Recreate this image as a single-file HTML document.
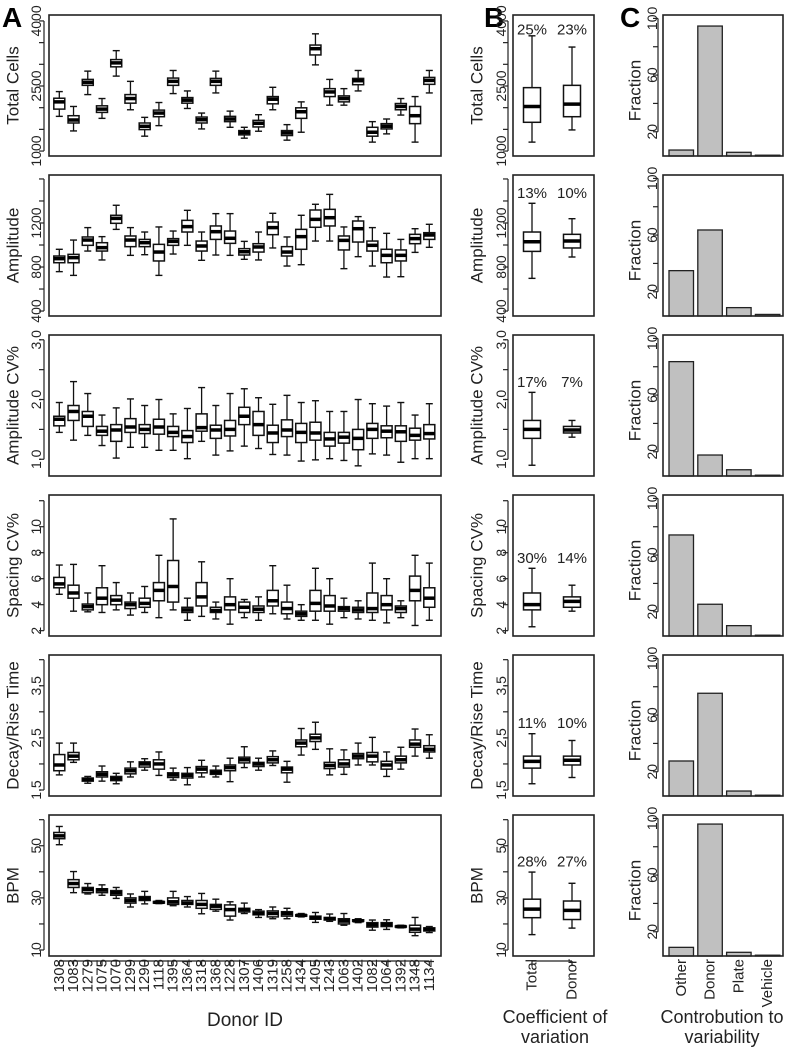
<!DOCTYPE html>
<html><head><meta charset="utf-8">
<style>
html,body{margin:0;padding:0;background:#fff;}
svg{display:block;font-family:"Liberation Sans",Arial,sans-serif;}
</style></head>
<body>
<svg id="fig" width="788" height="1050" viewBox="0 0 788 1050" xmlns="http://www.w3.org/2000/svg"></svg>
<script>
// ---------- DATA ----------
const donors=["1308","1083","1279","1075","1070","1299","1290","1118","1395","1364","1318","1368","1228","1307","1406","1319","1258","1434","1405","1243","1063","1402","1082","1064","1392","1348","1134"];
// each entry: [whiskerHigh, q3, median, q1, whiskerLow]
const cellsBox=[[2371,2218,2134,1967,1800],[2028,1815,1716,1647,1464],[2843,2652,2584,2515,2302],[2211,2043,1967,1891,1754],[3315,3109,3033,2942,2728],[2607,2302,2211,2104,1952],[1777,1647,1571,1495,1343],[2119,1944,1876,1792,1586],[2858,2683,2607,2515,2325],[2386,2233,2173,2104,1982],[1876,1784,1723,1647,1510],[2843,2675,2607,2515,2340],[1921,1800,1739,1678,1548],[1548,1472,1426,1373,1297],[1838,1708,1640,1556,1457],[2470,2256,2195,2089,1952],[1609,1472,1419,1358,1251],[2134,1997,1906,1754,1434],[3703,3444,3360,3216,2987],[2652,2439,2363,2256,2058],[2439,2272,2211,2134,2058],[2858,2675,2622,2530,2386],[1678,1548,1434,1343,1206],[1739,1632,1571,1510,1396],[2211,2096,2028,1952,1830],[2256,2028,1815,1632,1206],[2858,2698,2629,2538,2340]];
const ampBox=[[961,900,876,839,758],[1045,915,885,839,724],[1158,1073,1045,997,945],[1076,1021,976,945,864],[1361,1270,1242,1197,1142],[1158,1082,1045,985,906],[1118,1051,1021,985,912],[1164,1006,936,855,724],[1127,1058,1033,997,918],[1315,1224,1167,1118,997],[1118,1036,991,945,861],[1285,1173,1121,1051,909],[1285,1127,1061,1015,906],[1033,967,939,909,870],[1118,1012,982,936,864],[1288,1209,1158,1094,973],[1073,985,936,900,809],[1270,1142,1076,961,821],[1370,1318,1233,1161,1036],[1460,1324,1248,1173,1036],[1164,1082,1042,955,785],[1258,1218,1148,1027,894],[1158,1036,997,945,809],[1106,961,906,839,709],[1051,955,906,855,712],[1148,1097,1058,1012,933],[1188,1112,1091,1051,979]];
const ampCvBox=[[1.95,1.72,1.67,1.56,1.45],[2.30,1.90,1.80,1.65,1.32],[2.10,1.80,1.72,1.55,1.40],[1.74,1.55,1.47,1.40,1.23],[1.86,1.58,1.49,1.30,1.02],[2.01,1.68,1.54,1.45,1.20],[1.90,1.58,1.50,1.43,1.20],[2.00,1.67,1.54,1.42,1.15],[1.76,1.55,1.45,1.38,1.15],[1.85,1.48,1.38,1.28,1.01],[2.20,1.76,1.53,1.47,1.30],[1.90,1.57,1.49,1.35,1.07],[2.10,1.65,1.50,1.39,1.14],[2.18,1.87,1.72,1.58,1.22],[2.03,1.80,1.58,1.40,1.18],[1.92,1.57,1.44,1.28,1.08],[2.07,1.66,1.49,1.38,1.07],[1.95,1.60,1.45,1.28,0.97],[1.98,1.62,1.44,1.32,0.99],[1.80,1.45,1.34,1.22,1.01],[1.80,1.45,1.37,1.27,0.98],[2.00,1.50,1.35,1.16,0.89],[1.93,1.60,1.50,1.35,1.09],[1.89,1.56,1.47,1.36,1.07],[1.95,1.56,1.46,1.30,0.95],[1.74,1.52,1.40,1.32,1.01],[1.93,1.58,1.43,1.34,1.01]];
const spacingCvBox=[[7.05,6.1,5.6,5.3,4.8],[7.1,5.5,4.9,4.5,3.5],[4.9,4.05,3.85,3.6,3.45],[7.0,5.3,4.5,4.0,3.4],[5.7,4.7,4.35,4.0,3.6],[4.9,4.2,4.0,3.7,3.2],[5.4,4.5,4.1,3.8,3.4],[7.8,5.7,5.1,4.3,3.0],[10.6,7.4,5.4,4.2,3.6],[4.5,3.8,3.6,3.4,2.8],[7.3,5.7,4.6,3.9,3.1],[4.2,3.8,3.55,3.4,2.9],[6.0,4.6,4.0,3.6,2.5],[4.4,4.2,3.8,3.4,3.0],[4.6,3.9,3.65,3.4,2.8],[7.0,5.1,4.3,3.9,3.3],[5.5,4.2,3.7,3.3,2.9],[4.0,3.5,3.3,3.1,2.8],[6.8,5.1,4.1,3.5,2.8],[6.0,4.7,3.9,3.5,2.5],[4.5,3.85,3.7,3.5,3.0],[4.3,3.8,3.6,3.4,2.9],[7.2,4.9,3.7,3.4,2.8],[6.0,4.7,4.0,3.6,2.6],[4.3,3.9,3.7,3.4,3.0],[7.8,6.2,5.1,4.3,2.4],[7.2,5.3,4.5,3.8,2.8]];
const decayRiseBox=[[2.40,2.18,1.98,1.87,1.79],[2.40,2.22,2.15,2.08,2.03],[1.76,1.73,1.70,1.67,1.63],[1.96,1.85,1.80,1.75,1.67],[1.82,1.76,1.72,1.68,1.62],[2.04,1.92,1.87,1.81,1.75],[2.10,2.04,2.00,1.94,1.88],[2.23,2.08,2.00,1.90,1.78],[1.92,1.83,1.79,1.74,1.69],[1.93,1.82,1.78,1.73,1.60],[2.07,1.95,1.90,1.83,1.75],[1.96,1.88,1.84,1.80,1.75],[2.11,1.98,1.93,1.87,1.66],[2.33,2.13,2.08,2.02,1.93],[2.11,2.03,2.00,1.95,1.88],[2.25,2.14,2.08,2.02,1.97],[2.05,1.94,1.90,1.83,1.65],[2.68,2.46,2.40,2.33,2.17],[2.80,2.57,2.50,2.43,2.28],[2.29,2.03,1.97,1.91,1.79],[2.27,2.08,2.00,1.94,1.80],[2.40,2.20,2.15,2.10,1.98],[2.51,2.22,2.15,2.04,1.98],[2.23,2.05,1.98,1.90,1.76],[2.32,2.15,2.08,2.02,1.90],[2.67,2.46,2.38,2.32,2.15],[2.56,2.35,2.28,2.23,2.11]];
const bpmBox=[[57.4,55.1,53.8,52.7,50.4],[40.1,37.0,35.5,34.0,32.0],[35.5,34.0,33.2,32.0,31.5],[35.0,33.5,33.0,32.0,31.0],[34.0,32.8,32.0,31.0,29.8],[31.5,30.0,29.0,28.0,26.5],[32.5,30.5,29.8,29.0,27.7],[29.0,28.6,28.3,28.0,27.8],[32.5,30.0,28.5,27.5,27.0],[30.5,29.0,28.0,27.5,26.5],[31.7,29.0,27.5,26.0,23.9],[29.5,27.5,26.8,25.6,24.9],[28.5,27.3,25.5,23.0,21.5],[28.0,26.0,25.5,24.6,24.0],[25.5,24.9,24.0,23.5,22.5],[26.5,25.0,24.0,22.7,22.0],[26.0,24.7,24.0,23.0,22.0],[24.0,23.5,23.3,23.0,22.7],[24.4,23.0,22.4,21.8,20.6],[23.8,22.5,22.0,21.5,21.0],[24.0,22.0,21.1,20.0,19.5],[22.0,21.6,21.2,21.0,20.5],[21.5,20.5,19.7,18.8,17.6],[21.6,20.5,19.8,19.0,17.9],[19.5,19.2,19.0,18.8,18.5],[22.5,19.5,18.0,16.8,15.5],[19.0,18.5,18.0,17.3,16.7]];

const cvGroups=["Total","Donor"];
const cvCellsBox=[[3657,2462,2028,1663,1206],[3398,2515,2081,1792,1487]];
const cvAmpBox=[[1379,1118,1030,942,697],[1239,1097,1036,973,891]];
const cvAmpCvBox=[[2.12,1.65,1.50,1.35,0.90],[1.65,1.55,1.49,1.44,1.37]];
const cvSpacingBox=[[6.8,4.9,4.0,3.6,2.3],[5.5,4.6,4.25,3.8,3.5]];
const cvDecayBox=[[2.58,2.15,2.05,1.92,1.62],[2.45,2.15,2.07,1.98,1.74]];
const cvBpmBox=[[39.9,29.5,25.7,22.4,15.9],[35.6,28.8,25.2,21.7,18.4]];
const cvPercentTotal=["25%","13%","17%","30%","11%","28%"];
const cvPercentDonor=["23%","10%","7%","14%","10%","27%"];

const contribCats=["Other","Donor","Plate","Vehicle"];
const contribCells=[7.1,94.6,5.5,2.5];
const contribAmp=[34.9,63.6,8.8,4.0];
const contribAmpCv=[83.6,17.7,7.3,2.5];
const contribSpacing=[74.2,25.3,10.2,2.5];
const contribDecay=[27.6,75.4,6.4,2.5];
const contribBpm=[9.0,96.0,5.5,2.5];

const metricTitles=["Total Cells","Amplitude","Amplitude CV%","Spacing CV%","Decay/Rise Time","BPM"];
const yTicks=[[1000,1500,2000,2500,3000,3500,4000],[400,600,800,1000,1200,1400,1600],[1.0,1.5,2.0,2.5,3.0],[2,4,6,8,10,12],[1.5,2.0,2.5,3.0,3.5,4.0],[10,20,30,40,50,60]];
const yTickLabels=[["1000","2500","4000"],["400","800","1200"],["1.0","2.0","3.0"],["2","4","6","8","10"],["1.5","2.5","3.5"],["10","30","50"]];
const contribTicks=[20,40,60,80,100];
const contribTickLabels=["20","60","100"];

// ---------- LAYOUT ----------
const NS="http://www.w3.org/2000/svg";
const svg=document.getElementById('fig');
function mk(tag,attrs,parent){const e=document.createElementNS(NS,tag);for(const k in attrs)e.setAttribute(k,attrs[k]);(parent||svg).appendChild(e);return e;}
const panelTop=i=>15+160*i;
const PH=141;
const domains=[[886,4137],[355,1636],[0.72,3.08],[1.59,12.44],[1.385,4.09],[7.7,61.8]];
function yScale(i){const [a,b]=domains[i];const t=panelTop(i);return v=>t+PH-(v-a)/(b-a)*PH;}
const Ax0=49,Ax1=441;
const xA=k=>59.3+k*(429.3-59.3)/(donors.length-1);
const Bx0=513,Bx1=594;
const xB=k=>532+k*40;
const Cx0=663,Cx1=783;
const xC=k=>669+k*28.8;
const yC=(i,v)=>panelTop(i)+3.4+(100-v)*1.417;

const boxData=[cellsBox,ampBox,ampCvBox,spacingCvBox,decayRiseBox,bpmBox];
const cvData=[cvCellsBox,cvAmpBox,cvAmpCvBox,cvSpacingBox,cvDecayBox,cvBpmBox];
const contribData=[contribCells,contribAmp,contribAmpCv,contribSpacing,contribDecay,contribBpm];

function rtext(x,y,str,size,anchor,parent){
  const t=mk('text',{transform:`translate(${x},${y}) rotate(-90)`,'text-anchor':anchor||'middle','dominant-baseline':'central','font-size':size,fill:'#222'},parent);
  t.textContent=str;return t;
}
function drawBox(g,x,w,cap,ys,s){
  const [hi,q3,md,q1,lo]=s.map(ys);
  mk('line',{x1:x,x2:x,y1:hi,y2:q3,stroke:'#111','stroke-width':1.3},g);
  mk('line',{x1:x,x2:x,y1:q1,y2:lo,stroke:'#111','stroke-width':1.3},g);
  mk('line',{x1:x-cap,x2:x+cap,y1:hi,y2:hi,stroke:'#111','stroke-width':1.4},g);
  mk('line',{x1:x-cap,x2:x+cap,y1:lo,y2:lo,stroke:'#111','stroke-width':1.4},g);
  mk('rect',{x:x-w/2,y:q3,width:w,height:Math.max(q1-q3,0.5),fill:'#fff',stroke:'#111','stroke-width':1.5},g);
  mk('line',{x1:x-w/2,x2:x+w/2,y1:md,y2:md,stroke:'#000','stroke-width':3.5},g);
}
function yAxis(g,i,xAxis,labelX,ys){
  const tk=yTicks[i];
  mk('line',{x1:xAxis,x2:xAxis,y1:ys(tk[0]),y2:ys(tk[tk.length-1]),stroke:'#222','stroke-width':1.2},g);
  tk.forEach(v=>{mk('line',{x1:xAxis-5,x2:xAxis,y1:ys(v),y2:ys(v),stroke:'#222','stroke-width':1.2},g);});
  yTickLabels[i].forEach(l=>{rtext(labelX,ys(parseFloat(l)),l,14,'middle',g);});
}

// panel letters
[["A",2],["B",484],["C",620]].forEach(([L,x])=>{
  const t=mk('text',{x:x,y:27,'font-size':28,'font-weight':'bold',fill:'#000'});
  
  
  t.textContent=L;
});

for(let i=0;i<6;i++){
  const top=panelTop(i);
  const ys=yScale(i);
  const slug=metricTitles[i].toLowerCase().replace(/[^a-z]+/g,'-').replace(/-$/,'');
  // ---- Panel A ----
  const gA=mk('g',{});
  
  
  mk('rect',{x:Ax0,y:top,width:Ax1-Ax0,height:PH,fill:'none',stroke:'#222','stroke-width':1.6},gA);
  yAxis(gA,i,Ax0-5,36,ys);
  const tA=rtext(13,top+PH/2,metricTitles[i],17,'middle',gA);
  
  
  boxData[i].forEach((s,k)=>{
    const g=mk('g',{},gA);
    
    
    drawBox(g,xA(k),11,3.5,ys,s);
  });
  // ---- Panel B ----
  const gB=mk('g',{});
  
  
  mk('rect',{x:Bx0,y:top,width:Bx1-Bx0,height:PH,fill:'none',stroke:'#222','stroke-width':1.6},gB);
  yAxis(gB,i,Bx0-5,501,ys);
  const tB=rtext(477,top+PH/2,metricTitles[i],17,'middle',gB);
  
  
  cvData[i].forEach((s,k)=>{
    const g=mk('g',{},gB);
    
    
    drawBox(g,xB(k),17,3.5,ys,s);
  });
  const labelY=Math.max(ys(cvData[i][0][0])-11+5.5, top+19.5);
  [cvPercentTotal[i],cvPercentDonor[i]].forEach((p,k)=>{
    const t=mk('text',{x:xB(k),y:labelY,'font-size':15,'text-anchor':'middle',fill:'#222'},gB);
    
    
    t.textContent=p;
  });
  // ---- Panel C ----
  const gC=mk('g',{});
  
  
  const bot=top+PH;
  contribData[i].forEach((v,k)=>{
    const y=Math.min(yC(i,v),bot-0.8);
    const r=mk('rect',{x:xC(k),y:y,width:24.5,height:bot-y,fill:'#c0c0c0',stroke:'#222','stroke-width':1.3},gC);
    
    
  });
  mk('rect',{x:Cx0,y:top,width:Cx1-Cx0,height:PH,fill:'none',stroke:'#222','stroke-width':1.6},gC);
  mk('line',{x1:Cx0-5,x2:Cx0-5,y1:yC(i,20),y2:yC(i,100),stroke:'#222','stroke-width':1.2},gC);
  contribTicks.forEach(v=>mk('line',{x1:Cx0-10,x2:Cx0-5,y1:yC(i,v),y2:yC(i,v),stroke:'#222','stroke-width':1.2},gC));
  contribTickLabels.forEach(l=>rtext(652,yC(i,parseFloat(l)),l,14,'middle',gC));
  const tC=rtext(635,top+PH/2+5,"Fraction",17,'middle',gC);
  
  
}

// bottom x axes
const bot6=panelTop(5)+PH;
const gX=mk('g',{});


mk('line',{x1:xA(0),x2:xA(donors.length-1),y1:bot6+5,y2:bot6+5,stroke:'#222','stroke-width':1.2},gX);
donors.forEach((d,k)=>{
  mk('line',{x1:xA(k),x2:xA(k),y1:bot6+5,y2:bot6+10,stroke:'#222','stroke-width':1.2},gX);
  const t=rtext(xA(k),bot6+3,d,15,'end',gX);
  
  
});
const dt=mk('text',{x:245,y:1026,'font-size':19,'text-anchor':'middle',fill:'#222'});


dt.textContent="Donor ID";

const gXB=mk('g',{});


mk('line',{x1:xB(0),x2:xB(1),y1:bot6+5,y2:bot6+5,stroke:'#222','stroke-width':1.2},gXB);
cvGroups.forEach((g,k)=>{
  mk('line',{x1:xB(k),x2:xB(k),y1:bot6+5,y2:bot6+10,stroke:'#222','stroke-width':1.2},gXB);
  const t=rtext(xB(k),bot6+3,g,15,'end',gXB);
  
  
});
[["Coefficient of",1023],["variation",1043]].forEach(([s,y])=>{
  const t=mk('text',{x:555,y:y,'font-size':18,'text-anchor':'middle',fill:'#222'});
  
  
  t.textContent=s;
});
const gXC=mk('g',{});


contribCats.forEach((c,k)=>{
  const t=rtext(xC(k)+12.25,bot6+3,c,15,'end',gXC);
  
  
});
[["Controbution to",1023],["variability",1043]].forEach(([s,y])=>{
  const t=mk('text',{x:722,y:y,'font-size':18,'text-anchor':'middle',fill:'#222'});
  
  
  t.textContent=s;
});
</script>
</body></html>
